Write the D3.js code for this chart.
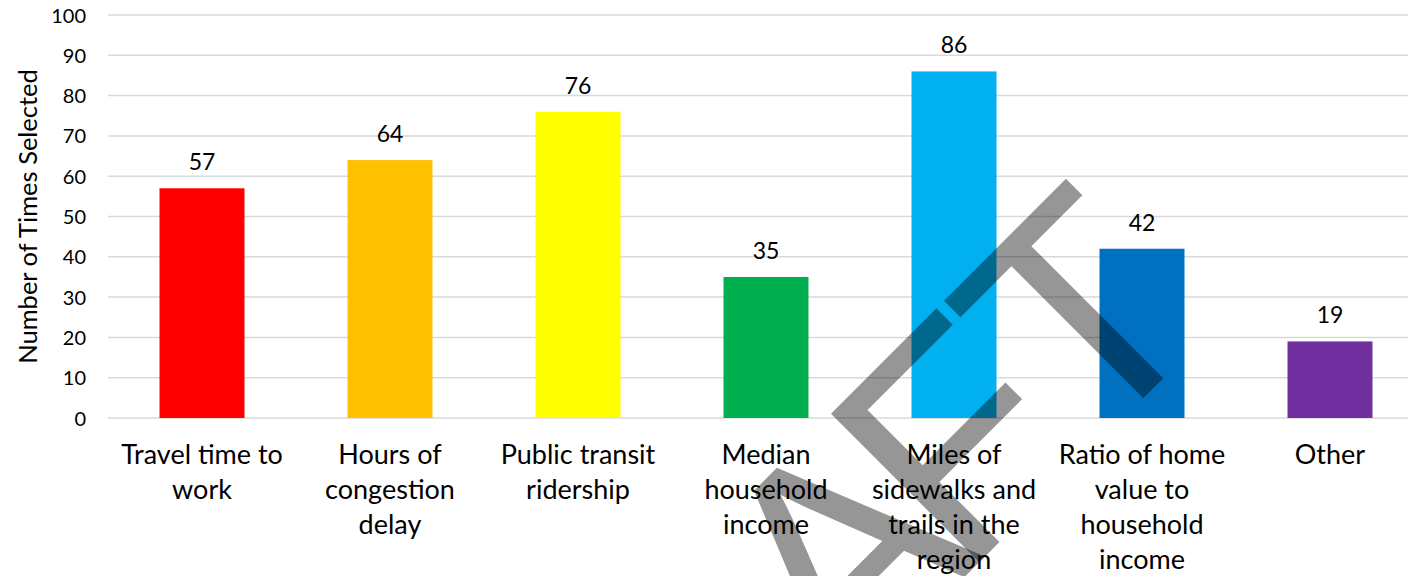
<!DOCTYPE html>
<html>
<head>
<meta charset="utf-8">
<script src="https://cdn.jsdelivr.net/npm/d3@7"></script>
<style>
  html, body { margin: 0; padding: 0; background: #fff; }
  svg { display: block; }
  text { font-family: Lato, "Noto Sans", sans-serif; fill: #000; }
</style>
</head>
<body>
<svg id="chart" width="1408" height="576"></svg>
<script>
const categories = [
  "Travel time to work",
  "Hours of congestion delay",
  "Public transit ridership",
  "Median household income",
  "Miles of sidewalks and trails in the region",
  "Ratio of home value to household income",
  "Other"
];
const values = [57, 64, 76, 35, 86, 42, 19];
const barColors = ["#FF0000", "#FFC000", "#FFFF00", "#00B050", "#00B0F0", "#0070C0", "#7030A0"];
const yTicks = [0, 10, 20, 30, 40, 50, 60, 70, 80, 90, 100];
const yTitle = "Number of Times Selected";
const watermarkLetters = ["D", "R", "A", "F", "T"];

const W = 1408, H = 576;
const plotLeft = 108, plotRight = 1424, plotTop = 15, plotBottom = 418;

const svg = d3.select("#chart");

const x = d3.scaleBand().domain(categories).range([plotLeft, plotRight]).paddingInner(0.548).paddingOuter(0.274);
const y = d3.scaleLinear().domain([0, 100]).range([plotBottom, plotTop]);

// gridlines
svg.append("g").selectAll("line").data(yTicks).join("line")
  .attr("x1", plotLeft).attr("x2", W)
  .attr("y1", d => y(d)).attr("y2", d => y(d))
  .attr("stroke", "#d9d9d9").attr("stroke-width", 1.5);

// y axis labels
const yAxis = d3.axisLeft(y).tickValues(yTicks).tickSize(0).tickPadding(0);
const yg = svg.append("g").attr("transform", `translate(86,0)`).call(yAxis);
yg.attr("font-size", null).attr("font-family", null);
yg.select(".domain").remove();
yg.selectAll("text")
  .style("font-size", "20px")
  .style("font-family", "Lato")
  .style("font-variant-numeric", "tabular-nums")
  .attr("fill", "#000")
  .attr("dy", "0.35em");

// y title
svg.append("text")
  .attr("transform", `translate(37,${(plotTop + plotBottom) / 2}) rotate(-90)`)
  .attr("text-anchor", "middle")
  .style("font-size", "25.5px")
  .text(yTitle);

// bars
svg.append("g").selectAll("rect").data(values).join("rect")
  .attr("x", (d, i) => x(categories[i]))
  .attr("width", x.bandwidth())
  .attr("y", d => y(d))
  .attr("height", d => y(0) - y(d))
  .attr("fill", (d, i) => barColors[i]);

// value labels
svg.append("g").selectAll("text").data(values).join("text")
  .attr("x", (d, i) => x(categories[i]) + x.bandwidth() / 2)
  .attr("y", d => y(d) - 18)
  .attr("text-anchor", "middle")
  .style("font-size", "23px")
  .text(d => d);

// category labels with wrapping
const catG = svg.append("g");
const catSize = "27px";
const maxW = 178;
categories.forEach((c, i) => {
  const t = catG.append("text")
    .attr("text-anchor", "middle")
    .style("font-size", catSize);
  const words = c.split(" ");
  let lines = [], line = [];
  const probe = catG.append("text").style("font-size", catSize);
  words.forEach(w => {
    const test = line.concat([w]).join(" ");
    probe.text(test);
    if (probe.node().getComputedTextLength() > maxW && line.length) {
      lines.push(line.join(" "));
      line = [w];
    } else {
      line.push(w);
    }
  });
  lines.push(line.join(" "));
  probe.remove();
  lines.forEach((l, k) => {
    t.append("tspan")
      .attr("x", x(c) + x.bandwidth() / 2)
      .attr("y", 464 + k * 35)
      .text(l);
  });
});

// watermark
const wm = svg.append("g").attr("transform", "rotate(-45)");
const wmX = [-345, -122, 100, 270, 448];
wm.selectAll("text").data(watermarkLetters).join("text")
  .attr("x", (d, i) => wmX[i])
  .attr("y", 1090)
  .attr("fill", "#000")
  .attr("fill-opacity", 0.41)
  .style("font-size", "305px")
  .style("font-family", "'Liberation Sans'")
  .text(d => d);
</script>
</body>
</html>
